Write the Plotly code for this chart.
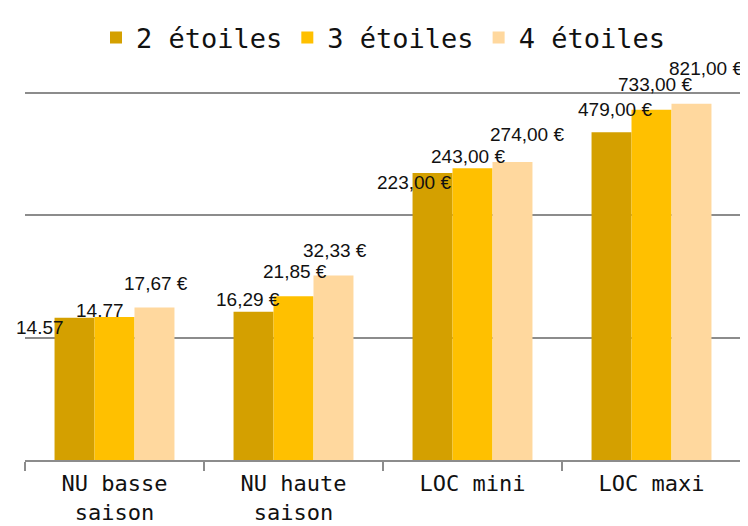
"""Prix par catégorie d'hébergement, échelle logarithmique."""

import math

import plotly.graph_objects as go

categories = ["NU basse<br>saison", "NU haute<br>saison", "LOC mini", "LOC maxi"]
series_names = ["2 étoiles", "3 étoiles", "4 étoiles"]
values_2 = [14.57, 16.29, 223.00, 479.00]
values_3 = [14.77, 21.85, 243.00, 733.00]
values_4 = [17.67, 32.33, 274.00, 821.00]
labels_2 = ["14.57", "16,29 €", "223,00 €", "479,00 €"]
labels_3 = ["14.77", "21,85 €", "243,00 €", "733,00 €"]
labels_4 = ["17,67 €", "32,33 €", "274,00 €", "821,00 €"]

COLORS = ["#D4A000", "#FFC000", "#FFD89E"]
# label offsets in px: x relative to the group centre, y relative to the bar top
LABEL_DX = [[-75, -46, -59, -37], [-15, 1, -5, 3], [41, 41, 54, 54]]
LABEL_DY = [[-10, 12, -10, 23], [7, 25, 12, 25], [24, 25, 27, 35]]

series = [values_2, values_3, values_4]
labels = [labels_2, labels_3, labels_4]

fig = go.Figure()
for name, vals, color in zip(series_names, series, COLORS):
    fig.add_trace(
        go.Bar(
            x=categories,
            y=vals,
            name=name,
            marker={"color": color, "line": {"width": 0}},
            hovertemplate="%{y}<extra>" + name + "</extra>",
        )
    )

for i, (vals, texts) in enumerate(zip(series, labels)):
    for j, (cat, val, text) in enumerate(zip(categories, vals, texts)):
        fig.add_annotation(
            x=cat,
            y=math.log10(val),
            text=text,
            showarrow=False,
            xshift=LABEL_DX[i][j],
            yshift=LABEL_DY[i][j],
            font={"family": "Liberation Sans, Arial, sans-serif", "size": 19, "color": "#111"},
        )

# the page body has an 8px margin, so the figure starts 8px in from the top-left
fig.update_layout(
    width=740,
    height=518,
    margin={"l": 17, "r": 7, "t": 84, "b": 66, "autoexpand": False},
    paper_bgcolor="white",
    plot_bgcolor="white",
    barmode="group",
    bargap=0.33,
    bargroupgap=0,
    showlegend=True,
    legend={
        "orientation": "h",
        "x": 0.5,
        "xanchor": "center",
        "y": 1.147,
        "yanchor": "middle",
        "font": {"family": "DejaVu Sans Mono, monospace", "size": 27, "color": "#111"},
        "itemwidth": 30,
        "tracegroupgap": 0,
    },
)
fig.update_xaxes(
    range=[-0.5, 3.5],
    showline=True,
    linecolor="#8c8c8c",
    linewidth=1.5,
    ticks="outside",
    tickson="boundaries",
    ticklen=9,
    tickcolor="#8c8c8c",
    tickwidth=1.5,
    ticklabelstandoff=3,
    showgrid=False,
    automargin=False,
    tickfont={"family": "DejaVu Sans Mono, monospace", "size": 22, "color": "#111"},
)
fig.update_yaxes(
    type="log",
    range=[0, 3.01],
    dtick=1,
    showticklabels=False,
    showgrid=True,
    gridcolor="#8c8c8c",
    gridwidth=1.5,
    zeroline=False,
    showline=False,
    automargin=False,
)

fig.write_html("out.html")
